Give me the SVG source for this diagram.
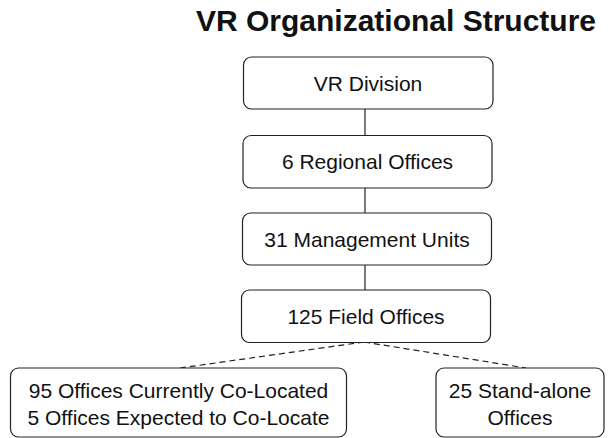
<svg xmlns="http://www.w3.org/2000/svg" width="616" height="438" viewBox="0 0 616 438">
<style>
.box{fill:#fff;stroke:#222;stroke-width:1.2}
.t{font-family:"Liberation Sans",Arial,sans-serif;font-size:21px;fill:#111;text-anchor:middle}
.title{font-family:"Liberation Sans",Arial,sans-serif;font-size:30px;font-weight:bold;fill:#111;text-anchor:middle}
.solid{stroke:#222;stroke-width:1.2;fill:none}
.dash{stroke:#222;stroke-width:1.2;fill:none;stroke-dasharray:6 4}
</style>
<rect width="616" height="438" fill="#fff"/>
<text class="title" x="396" y="31">VR Organizational Structure</text>
<g id="connectors">
<line class="solid" x1="365" y1="109" x2="365" y2="135"/>
<line class="solid" x1="365" y1="188" x2="365" y2="213"/>
<line class="solid" x1="365" y1="265" x2="365" y2="290"/>
<line class="dash" x1="364" y1="342" x2="180" y2="368"/>
<line class="dash" x1="364" y1="342" x2="526" y2="368"/>
</g>
<g id="vr-division">
<rect class="box" x="243.5" y="57" width="249.5" height="52" rx="8"/>
<text class="t" x="368" y="90.5">VR Division</text>
</g>
<g id="regional-offices">
<rect class="box" x="243" y="135.5" width="249" height="52.5" rx="8"/>
<text class="t" x="367.5" y="169">6 Regional Offices</text>
</g>
<g id="management-units">
<rect class="box" x="242.5" y="213" width="249" height="52" rx="8"/>
<text class="t" x="367" y="246.5">31 Management Units</text>
</g>
<g id="field-offices">
<rect class="box" x="241.5" y="290" width="249" height="52.5" rx="8"/>
<text class="t" x="366" y="323.5">125 Field Offices</text>
</g>
<g id="co-located">
<rect class="box" x="10.5" y="368" width="336" height="69" rx="8"/>
<text class="t" x="178.5" y="397.5">95 Offices Currently Co-Located</text>
<text class="t" x="178.5" y="425">5 Offices Expected to Co-Locate</text>
</g>
<g id="stand-alone">
<rect class="box" x="436" y="368" width="168" height="69" rx="8"/>
<text class="t" x="520" y="397.5">25 Stand-alone</text>
<text class="t" x="520" y="425">Offices</text>
</g>
</svg>
